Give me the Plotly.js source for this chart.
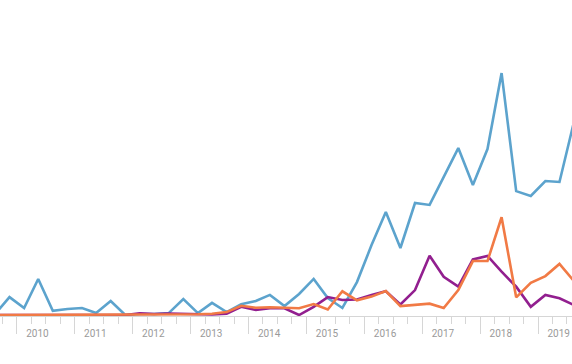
<!DOCTYPE html>
<html>
<head>
<meta charset="utf-8">
<script src="https://cdn.plot.ly/plotly-3.0.1.min.js"></script>
<style>html,body{margin:0;padding:0;background:#fff;}#chart{width:572px;height:364px;}</style>
</head>
<body>
<div id="chart"></div>
<script>
// Quarter midpoints (2009 Q3 .. 2019 Q3)
const quarters = [
  "2009-08-15","2009-11-15",
  "2010-02-15","2010-05-15","2010-08-15","2010-11-15",
  "2011-02-15","2011-05-15","2011-08-15","2011-11-15",
  "2012-02-15","2012-05-15","2012-08-15","2012-11-15",
  "2013-02-15","2013-05-15","2013-08-15","2013-11-15",
  "2014-02-15","2014-05-15","2014-08-15","2014-11-15",
  "2015-02-15","2015-05-15","2015-08-15","2015-11-15",
  "2016-02-15","2016-05-15","2016-08-15","2016-11-15",
  "2017-02-15","2017-05-15","2017-08-15","2017-11-15",
  "2018-02-15","2018-05-15","2018-08-15","2018-11-15",
  "2019-02-15","2019-05-15","2019-08-15"
];
const blueValues = [
  0.4, 7.4,
  2.9, 14.9, 1.7, 2.5,
  2.9, 0.8, 5.8, 0,
  0.4, 0.4, 0.8, 6.6,
  0.8, 5.0, 1.2, 4.5,
  5.8, 8.3, 3.7, 8.7,
  14.9, 7.0, 2.9, 13.6,
  28.9, 42.6, 27.7, 46.3,
  45.5, 57.0, 69.0, 53.7,
  68.6, 100, 51.2, 49.2,
  55.4, 55.0, 80
];
const purpleValues = [
  0, 0,
  0, 0, 0, 0,
  0, 0, 0, 0,
  0.7, 0.4, 0.6, 0.5,
  0.3, 0.2, 0.5, 3.4,
  2.1, 2.8, 2.8, 0,
  3.4, 7.4, 6.2, 6.4,
  8.3, 9.8, 4.4, 10.3,
  24.5, 15.8, 11.7, 23.0,
  24.4, 17.9, 11.7, 3.4,
  8.3, 6.9, 4.1
];
const orangeValues = [
  0, 0,
  0, 0, 0, 0,
  0, 0, 0, 0,
  0, 0.3, 0.3, 0.3,
  0.3, 0.5, 1.2, 3.8,
  3.0, 3.2, 3.0, 2.8,
  4.5, 2.3, 9.8, 6.1,
  7.6, 9.9, 3.7, 4.1,
  4.7, 2.9, 10.3, 22.3,
  22.3, 40.4, 7.3, 13.3,
  16.1, 21.1, 14.0
];
const yearTicks = ["2010-01-01","2011-01-01","2012-01-01","2013-01-01","2014-01-01","2015-01-01","2016-01-01","2017-01-01","2018-01-01","2019-01-01"];
const yearLabelPos = ["2010-05-10","2011-05-10","2012-05-10","2013-05-10","2014-05-10","2015-05-10","2016-05-10","2017-05-10","2018-05-10","2019-05-10"];
const yearLabels = ["2010","2011","2012","2013","2014","2015","2016","2017","2018","2019"];

const xRange = ["2009-09-16","2019-08-02"];

const traces = [
  {x: quarters, y: blueValues, type: "scatter", mode: "lines", line: {color: "#5ca3cd", width: 2.6}, hoverinfo: "skip"},
  {x: quarters, y: purpleValues, type: "scatter", mode: "lines", line: {color: "#921f8f", width: 2.6}, hoverinfo: "skip"},
  {x: quarters, y: orangeValues, type: "scatter", mode: "lines", line: {color: "#f17a45", width: 2.6}, hoverinfo: "skip"},
  {x: [yearLabelPos[0]], y: [null], xaxis: "x2", type: "scatter", mode: "lines", showlegend: false, hoverinfo: "skip"}
];

const layout = {
  width: 572, height: 364,
  margin: {l: 0, r: 0, t: 0, b: 48, pad: 0},
  paper_bgcolor: "#ffffff", plot_bgcolor: "#ffffff",
  showlegend: false,
  xaxis: {
    type: "date", range: xRange,
    showgrid: false, zeroline: false,
    showline: true, linecolor: "#d6d6d6", linewidth: 1,
    tickmode: "array", tickvals: yearTicks,
    ticks: "outside", ticklen: 17, tickwidth: 1, tickcolor: "#d6d6d6",
    showticklabels: false,
    minor: {ticks: "outside", dtick: "M3", tick0: "2010-01-01", ticklen: 7, tickwidth: 1, tickcolor: "#d6d6d6", showgrid: false}
  },
  xaxis2: {
    type: "date", range: xRange, overlaying: "x", anchor: "y", side: "bottom",
    showgrid: false, zeroline: false, showline: false,
    tickmode: "array", tickvals: yearLabelPos, ticktext: yearLabels,
    ticks: "outside", ticklen: 8, tickcolor: "rgba(0,0,0,0)",
    tickfont: {family: "Roboto, sans-serif", size: 10, color: "#9a9a9a"}
  },
  yaxis: {
    range: [-0.41, 130.2],
    showgrid: false, zeroline: false, showline: false, showticklabels: false, ticks: ""
  }
};

Plotly.newPlot("chart", traces, layout, {staticPlot: true, displayModeBar: false});
</script>
</body>
</html>
